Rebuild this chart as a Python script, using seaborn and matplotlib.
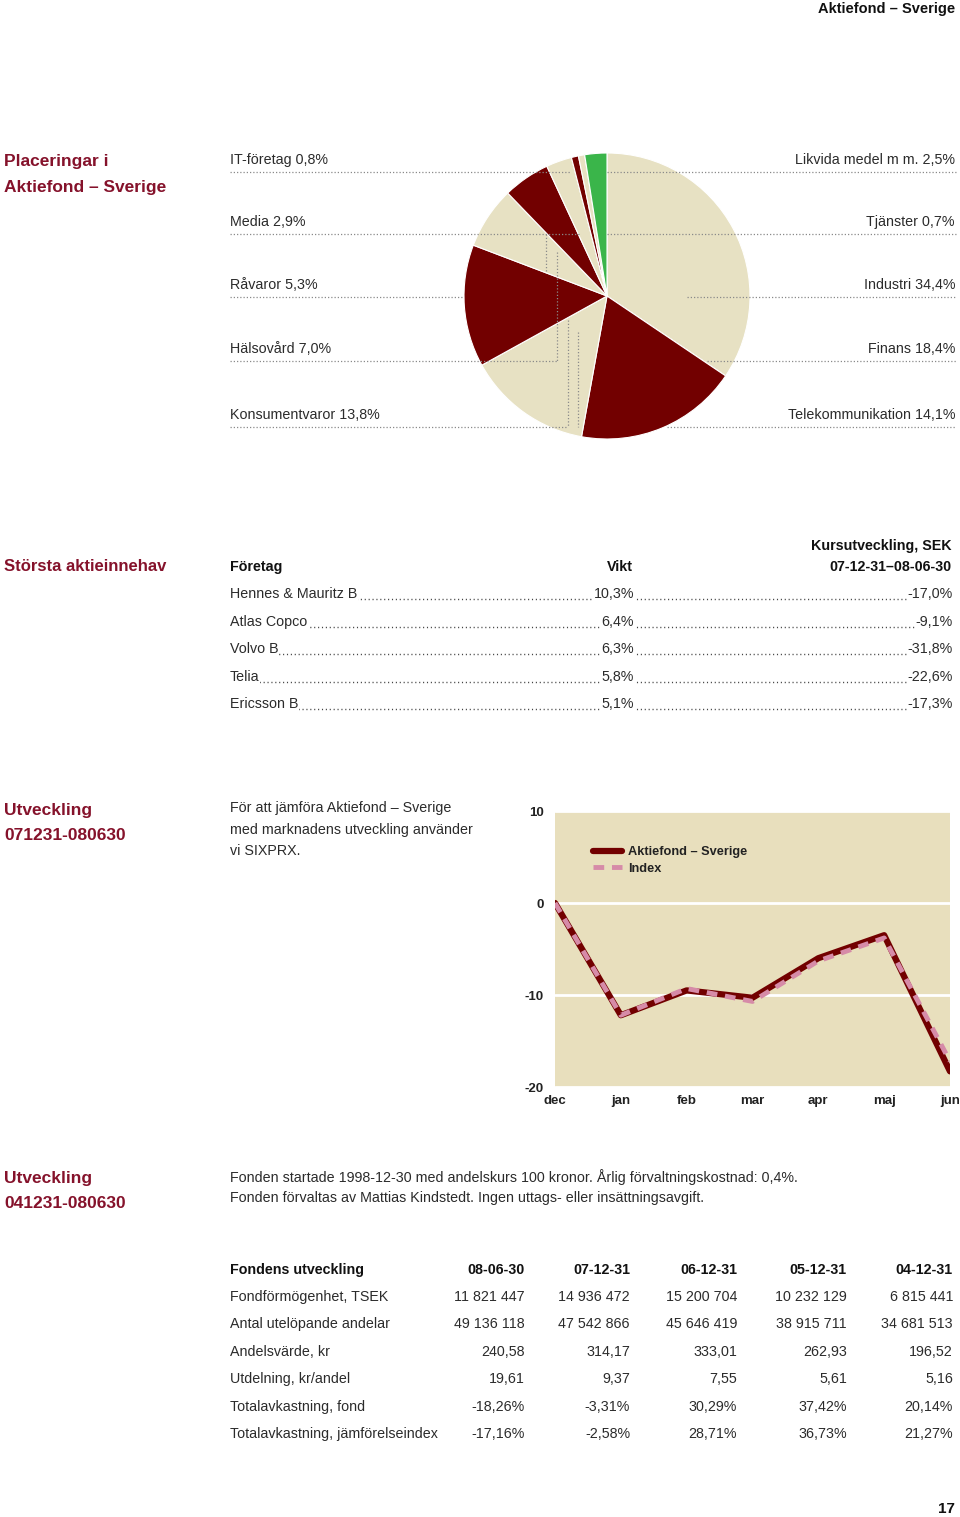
import matplotlib
matplotlib.use("Agg")
import matplotlib.pyplot as plt
import pandas as pd
import seaborn as sns

# Sector split, clockwise from 12 o'clock
sectors = ["Industri", "Finans", "Telekommunikation", "Konsumentvaror", "Hälsovård",
           "Råvaror", "Media", "IT-företag", "Tjänster", "Likvida medel m m."]
sector_share = [34.4, 18.4, 14.1, 13.8, 7.0, 5.3, 2.9, 0.8, 0.7, 2.5]
left_sectors = ["IT-företag", "Media", "Råvaror", "Hälsovård", "Konsumentvaror"]
right_sectors = ["Likvida medel m m.", "Tjänster", "Industri", "Finans", "Telekommunikation"]

# Largest holdings
companies = ["Hennes & Mauritz B", "Atlas Copco", "Volvo B", "Telia", "Ericsson B"]
weights = [10.3, 6.4, 6.3, 5.8, 5.1]
price_change = [-17.0, -9.1, -31.8, -22.6, -17.3]

# Development 071231-080630 (%)
months = ["dec", "jan", "feb", "mar", "apr", "maj", "jun"]
fund_dev = [0.0, -12.2, -9.5, -10.3, -6.0, -3.5, -18.3]
index_dev = [0.0, -12.2, -9.3, -10.7, -6.3, -3.8, -17.2]

# Fund history table
dates = ["08-06-30", "07-12-31", "06-12-31", "05-12-31", "04-12-31"]
fund_assets = [11821447, 14936472, 15200704, 10232129, 6815441]
units_out = [49136118, 47542866, 45646419, 38915711, 34681513]
unit_value = [240.58, 314.17, 333.01, 262.93, 196.52]
dividend = [19.61, 9.37, 7.55, 5.61, 5.16]
return_fund = [-18.26, -3.31, 30.29, 37.42, 20.14]
return_index = [-17.16, -2.58, 28.71, 36.73, 21.27]

RED = "#85122b"
DARK = "#720000"
CREAM = "#e7e1c3"
GREEN = "#3ab54a"
TXT = "#2b2b2b"
DOT = "#8a8a8a"

sns.set_style("white")
plt.rcParams["font.family"] = ["Liberation Sans", "DejaVu Sans"]

W, H = 960, 1517
fig = plt.figure(figsize=(W / 100, H / 100), dpi=100)


def box(x0, y0, x1, y1):
    return [x0 / W, 1 - y1 / H, (x1 - x0) / W, (y1 - y0) / H]


def comma(v, nd=1):
    return f"{v:.{nd}f}".replace(".", ",")


def spaced(v):
    return f"{v:,}".replace(",", " ")


# ---- pie
pax = fig.add_axes(box(464, 153, 750, 439))
pie_colors = [CREAM, DARK, CREAM, DARK, CREAM, DARK, CREAM, DARK, CREAM, GREEN]
pax.pie(sector_share, colors=pie_colors, startangle=90, counterclock=False,
        wedgeprops={"edgecolor": "white", "linewidth": 0.8})
pax.set_xlim(-1, 1)
pax.set_ylim(-1, 1)
pax.set_aspect("auto")
pax.axis("off")

# ---- line chart
cax = fig.add_axes(box(555, 811, 950, 1087))
cax.set_facecolor("#e8dfbd")
df = pd.DataFrame({"month": months, "fund": fund_dev, "index": index_dev})
df["pos"] = range(len(months))
sns.lineplot(data=df, x="pos", y="fund", ax=cax, color=DARK, lw=4.5,
             label="Aktiefond – Sverige", zorder=3)
sns.lineplot(data=df, x="pos", y="index", ax=cax, color="#d68ba8", lw=3.5,
             dashes=(2.2, 1.6), label="Index", zorder=4)
cax.set_xlim(0, len(months) - 1)
cax.set_ylim(-20, 10)
cax.set_yticks([-20, -10, 0, 10])
cax.set_yticklabels(["-20", "-10", "0", "10"])
cax.set_xticks(df["pos"])
cax.set_xticklabels(months)
cax.set_xlabel("")
cax.set_ylabel("")
cax.tick_params(length=0, labelsize=9.5, colors="#222222")
cax.tick_params(axis="y", pad=8)
cax.tick_params(axis="x", pad=6)
for lab in cax.get_xticklabels() + cax.get_yticklabels():
    lab.set_fontweight("bold")
cax.yaxis.grid(True, color="white", lw=2)
cax.xaxis.grid(False)
for s in cax.spines.values():
    s.set_visible(False)
leg = cax.legend(loc="upper left", bbox_to_anchor=(0.08, 0.895), frameon=False,
                 borderpad=0, handlelength=2.3, handletextpad=0.45, labelspacing=0.35,
                 prop={"size": 9.2, "weight": "bold"})
for t in leg.get_texts():
    t.set_color("#222222")

# ---- overlay for page text
ax = fig.add_axes([0, 0, 1, 1], zorder=10)
ax.set_xlim(0, W)
ax.set_ylim(H, 0)
ax.axis("off")
ax.patch.set_alpha(0)

dot_kw = dict(color=DOT, lw=0.9, ls=(0, (1, 1.6)))
body = 10.3
head = 12.5

ax.text(955, 9, "Aktiefond – Sverige", ha="right", va="center", fontsize=10.5,
        fontweight="bold", color="#111111")

# section 1
ax.text(4, 161, "Placeringar i", fontsize=head, fontweight="bold", color=RED, va="center")
ax.text(4, 187, "Aktiefond – Sverige", fontsize=head, fontweight="bold", color=RED, va="center")

share = dict(zip(sectors, sector_share))
rows_y = [160, 222, 285, 349, 415]
left_end = [570, 580, 463, 557, 568]
right_start = [607, 607, 687, 707, 667]
for i, y in enumerate(rows_y):
    ax.text(230, y, f"{left_sectors[i]} {comma(share[left_sectors[i]])}%", fontsize=body,
            color=TXT, va="center")
    ax.text(955, y, f"{right_sectors[i]} {comma(share[right_sectors[i]])}%", fontsize=body,
            color=TXT, va="center", ha="right")
    ax.plot([230, left_end[i]], [y + 12, y + 12], **dot_kw)
    ax.plot([right_start[i], 956], [y + 12, y + 12], **dot_kw)
# vertical leaders
ax.plot([546, 546], [234, 272], **dot_kw)
ax.plot([557, 557], [252, 361], **dot_kw)
ax.plot([568, 568], [320, 427], **dot_kw)
ax.plot([578, 578], [332, 427], **dot_kw)

# section 2
ax.text(4, 566, "Största aktieinnehav", fontsize=12, fontweight="bold", color=RED, va="center")
ax.text(230, 567, "Företag", fontsize=body, fontweight="bold", color="#111111", va="center")
ax.text(633, 567, "Vikt", fontsize=body, fontweight="bold", color="#111111", va="center", ha="right")
ax.text(952, 546, "Kursutveckling, SEK", fontsize=body, fontweight="bold", color="#111111",
        va="center", ha="right")
ax.text(952, 567, "07-12-31–08-06-30", fontsize=body, fontweight="bold", color="#111111",
        va="center", ha="right")
wbox = dict(facecolor="white", edgecolor="none", pad=0.6)
for i, name in enumerate(companies):
    y = 594 + i * 27.5
    ax.plot([232, 950], [y + 5, y + 5], color="#444444", lw=1.0, ls=(0, (0.8, 2.0)))
    ax.text(230, y, name, fontsize=body, color=TXT, va="center", bbox=wbox)
    ax.text(634, y, f"{comma(weights[i])}%", fontsize=body, color=TXT, va="center",
            ha="right", bbox=wbox)
    ax.text(953, y, f"{comma(price_change[i])}%", fontsize=body, color=TXT, va="center",
            ha="right", bbox=wbox)

# section 3
ax.text(4, 810, "Utveckling", fontsize=head, fontweight="bold", color=RED, va="center")
ax.text(4, 835, "071231-080630", fontsize=head, fontweight="bold", color=RED, va="center")
for i, line in enumerate(["För att jämföra Aktiefond – Sverige",
                          "med marknadens utveckling använder",
                          "vi SIXPRX."]):
    ax.text(230, 808 + i * 21.5, line, fontsize=body, color=TXT, va="center")

# section 4
ax.text(4, 1179, "Utveckling", fontsize=head, fontweight="bold", color=RED, va="center")
ax.text(4, 1203, "041231-080630", fontsize=head, fontweight="bold", color=RED, va="center")
ax.text(230, 1177, "Fonden startade 1998-12-30 med andelskurs 100 kronor. Årlig "
        "förvaltningskostnad: 0,4%.", fontsize=body, color=TXT, va="center")
ax.text(230, 1198, "Fonden förvaltas av Mattias Kindstedt. Ingen uttags- eller "
        "insättningsavgift.", fontsize=body, color=TXT, va="center")

# table
col_x = [525, 630, 737, 847, 953]
ax.text(230, 1270, "Fondens utveckling", fontsize=body, fontweight="bold", color="#111111", va="center")
for x, d in zip(col_x, dates):
    ax.text(x, 1270, d, fontsize=body, fontweight="bold", color="#111111", va="center", ha="right")
table = [
    ("Fondförmögenhet, TSEK", [spaced(v) for v in fund_assets]),
    ("Antal utelöpande andelar", [spaced(v) for v in units_out]),
    ("Andelsvärde, kr", [comma(v, 2) for v in unit_value]),
    ("Utdelning, kr/andel", [comma(v, 2) for v in dividend]),
    ("Totalavkastning, fond", [comma(v, 2) + "%" for v in return_fund]),
    ("Totalavkastning, jämförelseindex", [comma(v, 2) + "%" for v in return_index]),
]
for r, (label, vals) in enumerate(table):
    y = 1297 + r * 27.4
    ax.text(230, y, label, fontsize=body, color=TXT, va="center")
    for x, v in zip(col_x, vals):
        ax.text(x, y, v, fontsize=body, color=TXT, va="center", ha="right")

ax.text(946, 1509, "17", fontsize=11, fontweight="bold", color="#111111", va="center", ha="center")

fig.savefig("out.png", dpi=100, facecolor="white")
